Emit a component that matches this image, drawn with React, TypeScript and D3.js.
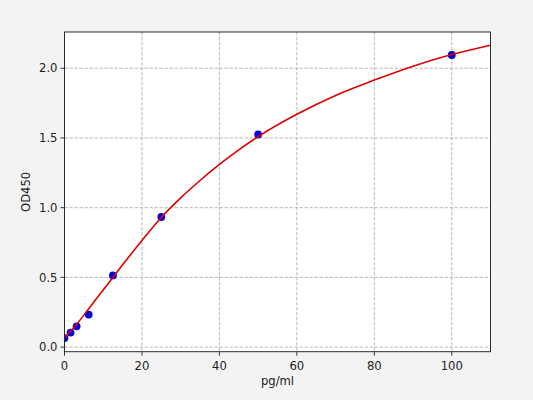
import React from "react";
import * as d3 from "d3";

const concentrations = [0, 1.5625, 3.125, 6.25, 12.5, 25, 50, 100];
const odValues = [0.065, 0.104, 0.149, 0.233, 0.514, 0.933, 1.525, 2.095];

const curveX = [0, 1.5625, 3.125, 6.25, 10, 12.5, 15, 20, 25, 30, 35, 40, 45, 50, 60, 70, 80, 90, 100, 110];
const curveY = [0.07, 0.112, 0.163, 0.275, 0.41, 0.5, 0.59, 0.765, 0.93, 1.07, 1.195, 1.31, 1.415, 1.51, 1.67, 1.805, 1.915, 2.015, 2.098, 2.165];

const xTicks = [0, 20, 40, 60, 80, 100];
const yTicks = [0.0, 0.5, 1.0, 1.5, 2.0];
const xLabel = "pg/ml";
const yLabel = "OD450";

const W = 533;
const H = 400;
const left = 64.5;
const right = 490.5;
const top = 32;
const bottom = 351.7;

export default function App() {
  const x = d3.scaleLinear().domain([0, 110]).range([left, right]);
  const y = d3.scaleLinear().domain([-0.033, 2.26]).range([bottom, top]);
  const curvePts = curveX.map((v, i) => [v, curveY[i]] as [number, number]);
  const line = d3
    .line<[number, number]>()
    .x((d) => x(d[0]))
    .y((d) => y(d[1]))
    .curve(d3.curveMonotoneX);
  const font = "'DejaVu Sans', sans-serif";
  const fs = 11.6;
  return (
    <svg
      width={W}
      height={H}
      style={{ position: "absolute", left: 0, top: 0, display: "block" }}
      fontFamily={font}
    >
      <rect x={0} y={0} width={W} height={H} fill="#f3f3f3" />
      <rect x={left} y={top} width={right - left} height={bottom - top} fill="#ffffff" />
      {xTicks.map((t) => (
        <line
          key={"gx" + t}
          x1={x(t)}
          x2={x(t)}
          y1={top}
          y2={bottom}
          stroke="#b0b0b0"
          strokeWidth={0.9}
          strokeDasharray="3.4,1.6"
        />
      ))}
      {yTicks.map((t) => (
        <line
          key={"gy" + t}
          x1={left}
          x2={right}
          y1={y(t)}
          y2={y(t)}
          stroke="#b0b0b0"
          strokeWidth={0.9}
          strokeDasharray="3.4,1.6"
        />
      ))}
      <defs>
        <clipPath id="clip">
          <rect x={left} y={top} width={right - left} height={bottom - top} />
        </clipPath>
      </defs>
      <g clipPath="url(#clip)">
        {concentrations.map((c, i) => (
          <circle key={"p" + i} cx={x(c)} cy={y(odValues[i])} r={3.9} fill="#0000dd" />
        ))}
        <path d={line(curvePts) || ""} fill="none" stroke="#dd0000" strokeWidth={1.6} />
      </g>
      <rect
        x={left}
        y={top}
        width={right - left}
        height={bottom - top}
        fill="none"
        stroke="#222"
        strokeWidth={0.95}
      />
      {xTicks.map((t) => (
        <g key={"tx" + t}>
          <line x1={x(t)} x2={x(t)} y1={bottom} y2={bottom + 4} stroke="#222" strokeWidth={0.9} />
          <text x={x(t)} y={bottom + 18} textAnchor="middle" fontSize={fs} fill="#222">
            {t}
          </text>
        </g>
      ))}
      {yTicks.map((t) => (
        <g key={"ty" + t}>
          <line x1={left - 4} x2={left} y1={y(t)} y2={y(t)} stroke="#222" strokeWidth={0.9} />
          <text
            x={left - 7}
            y={y(t)}
            dy="0.36em"
            textAnchor="end"
            fontSize={fs}
            fill="#222"
          >
            {t.toFixed(1)}
          </text>
        </g>
      ))}
      <text x={(left + right) / 2} y={385} textAnchor="middle" fontSize={fs} fill="#222">
        {xLabel}
      </text>
      <text
        transform={`translate(30, ${(top + bottom) / 2}) rotate(-90)`}
        textAnchor="middle"
        fontSize={fs}
        fill="#222"
      >
        {yLabel}
      </text>
    </svg>
  );
}
